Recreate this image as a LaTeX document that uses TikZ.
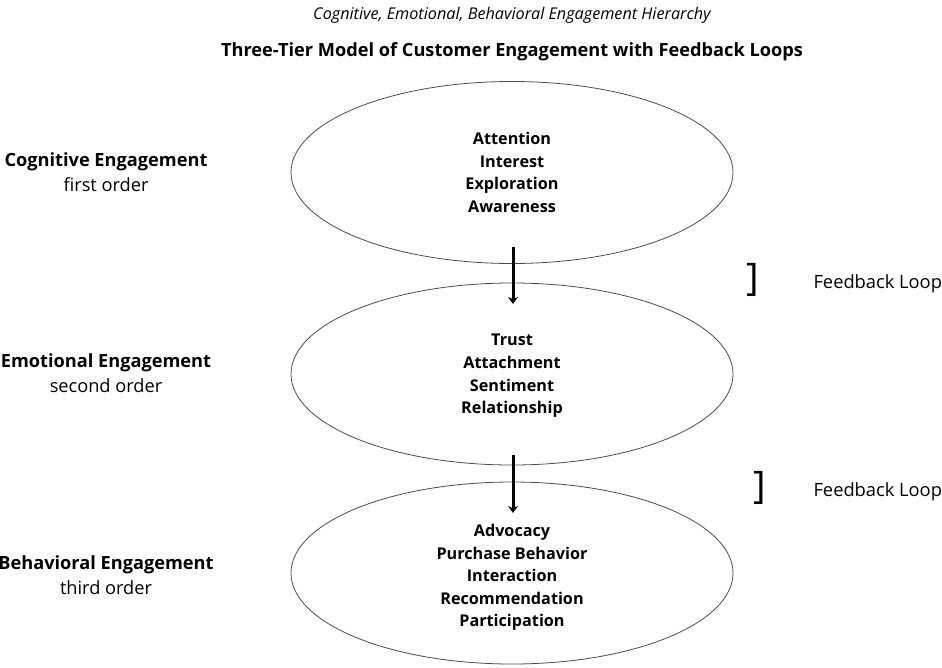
\documentclass[tikz,border=0pt]{standalone}
\usepackage{fontspec}
\setmainfont{Open Sans}
\usetikzlibrary{arrows.meta,shapes.geometric}
\begin{document}
\begin{tikzpicture}[x=1pt,y=-1pt,
  tier/.style={draw=black!70, line width=0.8pt, ellipse, minimum width=442pt, minimum height=182pt, inner sep=0pt},
  items/.style={font=\fontsize{16.2}{22.6}\selectfont\bfseries, align=center},
  tiername/.style={font=\fontsize{18.2}{25}\selectfont, align=center},
  flow/.style={line width=3pt, -{Stealth[length=7pt,width=10pt]}},
  bracket/.style={font=\fontsize{38}{38}\selectfont},
  looplabel/.style={font=\fontsize{18.3}{20}\selectfont, anchor=west}]
\useasboundingbox (0,0) rectangle (942,667);

% headings
\node[font=\fontsize{16.2}{18}\selectfont\itshape] (sub) at (512,15) {Cognitive, Emotional, Behavioral Engagement Hierarchy};
\node[font=\fontsize{18.2}{22}\selectfont\bfseries] (title) at (512,52) {Three-Tier Model of Customer Engagement with Feedback Loops};

% the three tiers
\node[tier] (cog) at (512,172.5) {};
\node[tier] (emo) at (512,374) {};
\node[tier] (beh) at (512,573) {};

\node[items] (cogtxt) at (512,172.5) {Attention\\Interest\\Exploration\\Awareness};
\node[items] (emotxt) at (512,376) {Trust\\Attachment\\Sentiment\\Relationship};
\node[items] (behtxt) at (512,577.5) {Advocacy\\Purchase Behavior\\Interaction\\Recommendation\\Participation};

% tier names on the left
\node[tiername] (cogname) at (106,172.5) {\textbf{Cognitive Engagement}\\first order};
\node[tiername] (emoname) at (106,373.5) {\textbf{Emotional Engagement}\\second order};
\node[tiername] (behname) at (106,575.5) {\textbf{Behavioral Engagement}\\third order};

% flow between tiers
\coordinate (a1s) at (513,247);
\coordinate (a1e) at (513,304);
\coordinate (a2s) at (513,455);
\coordinate (a2e) at (513,513);
\draw[flow] (a1s) -- (a1e);
\draw[flow] (a2s) -- (a2e);

% feedback loops
\node[bracket] (b1) at (753,280) {]};
\node[bracket] (b2) at (760,488) {]};
\node[looplabel] (fb1) at (810,284) {Feedback Loop};
\node[looplabel] (fb2) at (810,492) {Feedback Loop};
\end{tikzpicture}
\end{document}
